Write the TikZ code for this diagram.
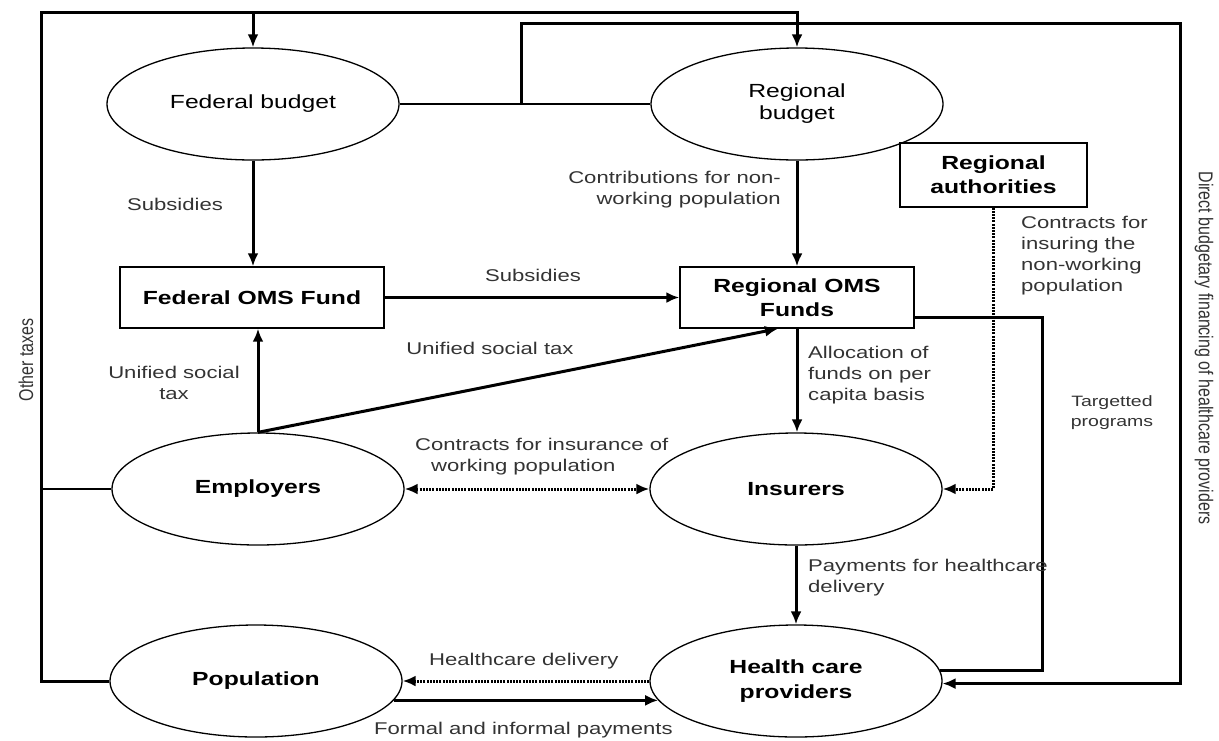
\documentclass[tikz,border=0pt]{standalone}
\usepackage{fontspec}
\setmainfont[FakeStretch=1.3]{Liberation Sans}
\newfontfamily\rotfont{Liberation Sans}
\usetikzlibrary{shapes.geometric,arrows.meta,calc}
\begin{document}
\begin{tikzpicture}[x=1pt,y=-1pt,
  ell/.style={ellipse,draw,line width=1.3pt,inner sep=0pt,minimum width=292pt,minimum height=112pt,align=center,font=\fontsize{19}{22}\selectfont},
  bell/.style={ell,font=\fontsize{19}{25}\selectfont\bfseries},
  box/.style={rectangle,draw,line width=1.3pt,inner sep=0pt,align=center,font=\fontsize{19}{24}\selectfont\bfseries},
  lab/.style={font=\fontsize{17}{21}\selectfont,inner sep=0pt,text=black!80},
  smalllab/.style={font=\fontsize{15}{20}\selectfont,inner sep=0pt,text=black!80},
  rotlab/.style={font=\rotfont\fontsize{16}{18}\selectfont,inner sep=0pt,text=black!80},
  flow/.style={line width=3pt,-{Latex[length=13pt,width=11pt]}},
  frameline/.style={line width=3pt},
  thinline/.style={line width=1.3pt},
  dotflow/.style={line width=3pt,dash pattern=on 2pt off 1.2pt,-{Latex[length=13pt,width=11pt]}},
]
\useasboundingbox (0,0) rectangle (1219,740);

% nodes
\node[ell] (fb) at (253,104) {Federal budget};
\node[ell] (rb) at (797,104) {Regional\\budget};
\node[box,minimum width=187pt,minimum height=64pt] (ra) at (993.5,175) {Regional\\authorities};
\node[box,minimum width=264pt,minimum height=61pt] (fo) at (252,297.5) {Federal OMS Fund};
\node[box,minimum width=234pt,minimum height=61pt] (ro) at (797,297.5) {Regional OMS\\Funds};
\node[bell] (emp) at (258,489) {Employers};
\node[bell] (ins) at (796,489) {Insurers};
\node[bell] (pop) at (256,681) {Population};
\node[bell] (hcp) at (796,681) {Health care\\providers};

% helper coordinates
\coordinate (ctl) at (41,12);
\coordinate (ctr) at (1180,23);
\coordinate (cj) at (521,104);
\coordinate (ctp) at (1042,317);

% connectors
\draw[flow] (pop.west) -| (ctl) -| (rb.north);
\draw[flow] (fb.north |- ctl) -- (fb.north);
\draw[thinline] (emp.west) -- (emp.west -| ctl);
\draw[thinline] (fb.east) -- (rb.west);
\draw[flow] (cj) |- (ctr) |- (hcp.-1);
\draw[flow] (fb.south) -- (fb.south |- fo.north);
\draw[flow] (rb.south) -- (ro.north);
\draw[flow] (fo.east) -- (ro.west);
\draw[flow] (emp.north) -- (emp.north |- fo.south);
\draw[flow] (emp.north) -- ($(ro.south)+(-19,0)$);
\draw[flow] (ro.south) -- (ro.south |- ins.north);
\draw[dotflow,{Latex[length=13pt,width=11pt]}-{Latex[length=13pt,width=11pt]}] (emp.east) -- (ins.west);
\draw[dotflow] (ra.south) |- (ins.east);
\draw[flow] (ins.south) -- (ins.south |- hcp.north);
\draw[dotflow] (hcp.west) -- (pop.east);
\draw[flow] (pop.-8) -- (hcp.188);
\draw[frameline] (ro.east |- ctp) -- (ctp) |- (hcp.4);

% labels
\node[lab] (l1) at (175,204) {Subsidies};
\node[lab,align=right,anchor=east] (l2) at (781,190) {Contributions for non-\\working population};
\node[lab,align=left,anchor=north west] (l3) at (1021,216) {Contracts for\\insuring the\\non-working\\population};
\node[lab] (l4) at (533,275) {Subsidies};
\node[lab] (l5) at (490,348) {Unified social tax};
\node[lab,align=center] (l6) at (174,383) {Unified social\\tax};
\node[lab,align=left,anchor=west] (l7) at (808,375) {Allocation of\\funds on per\\capita basis};
\node[smalllab,align=center] (l8) at (1112,413) {Targetted\\programs};
\node[lab,align=left,anchor=west] (l9) at (415,457) {Contracts for insurance of\\\hspace{16pt}working population};
\node[lab,align=left,anchor=west] (l10) at (808,578) {Payments for healthcare\\delivery};
\node[lab,anchor=west] (l11) at (429,661) {Healthcare delivery};
\node[lab,anchor=west] (l12) at (374,730) {Formal and informal payments};
\node[rotlab,xscale=1.25,rotate=90] (l13) at (26,360) {Other taxes};
\node[rotlab,xscale=1.25,rotate=-90] (l14) at (1204,348) {Direct budgetary financing of healthcare providers};
\end{tikzpicture}
\end{document}
